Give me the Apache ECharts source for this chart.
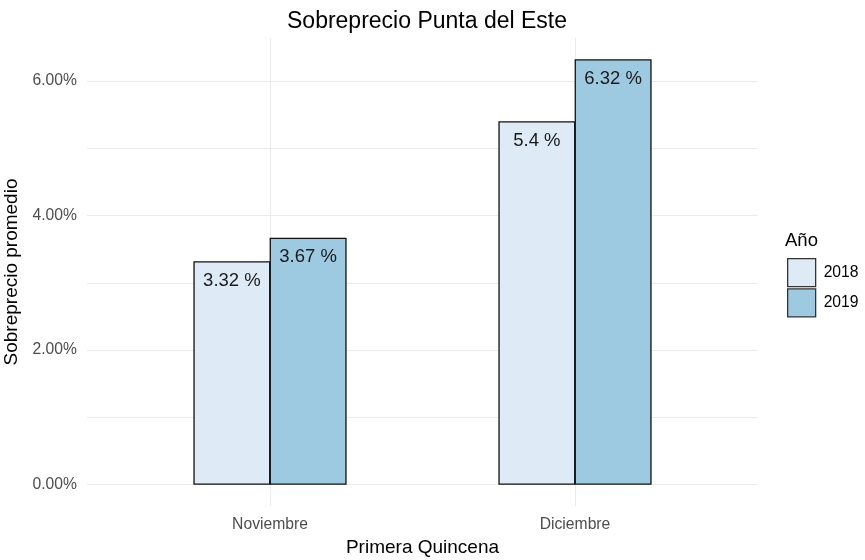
<!DOCTYPE html>
<html>
<head>
<meta charset="utf-8">
<script src="https://cdn.jsdelivr.net/npm/echarts@6/dist/echarts.min.js"></script>
<style>
  html, body { margin: 0; padding: 0; background: #fff; }
  #chart { width: 865px; height: 560px; }
</style>
</head>
<body>
<div id="chart"></div>
<script>
// datos
const categories = ['Noviembre', 'Diciembre']
const years = ['2018', '2019']
const values2018 = [3.32, 5.4]
const values2019 = [3.67, 6.32]
const yTicks = [0, 1, 2, 3, 4, 5, 6]
const yLabels = [0, 2, 4, 6]

const colors = ['#deebf7', '#9ecae1']
const gridColor = '#ebebeb'
const font = 'Liberation Sans, Arial'

var myChart = echarts.init(document.getElementById('chart'))

// posicion x de cada categoria: 1, 2 (como ggplot)
function toPoints(vals) {
  return vals.map((v, i) => [i + 1, v])
}

let series = [values2018, values2019].map((vals, index) => {
  return {
    name: years[index],
    type: 'bar',
    data: toPoints(vals),
    barWidth: 77,
    barGap: '-1%',
    itemStyle: {
      color: colors[index],
      borderColor: '#111',
      borderWidth: 1.3
    },
    label: {
      show: true,
      position: 'insideTop',
      distance: 10,
      formatter: p => p.value[1] + ' %',
      fontFamily: font,
      fontSize: 18.5,
      color: '#1a1a1a'
    },
    z: 3
  }
})

// lineas verticales de la grilla en cada categoria (detras de las barras)
series.push({
  type: 'line',
  data: [],
  silent: true,
  z: 1,
  markLine: {
    z: 0,
    symbol: 'none',
    silent: true,
    label: { show: false },
    lineStyle: { color: gridColor, type: 'solid', width: 1 },
    data: categories.map((c, i) => ({ xAxis: i + 1 }))
  }
})

const option = {
  animation: false,
  textStyle: { fontFamily: font },
  title: {
    text: 'Sobreprecio Punta del Este',
    left: 422,
    textAlign: 'center',
    top: 5,
    textStyle: {
      fontFamily: font,
      fontSize: 23,
      fontWeight: 'normal',
      color: '#000'
    }
  },
  grid: {
    left: 87,
    right: 107,
    top: 38,
    bottom: 54,
    outerBoundsMode: 'none'
  },
  legend: {
    orient: 'vertical',
    left: 787,
    top: 258,
    padding: 0,
    itemWidth: 28,
    itemHeight: 28,
    itemGap: 1,
    icon: 'rect',
    data: years,
    itemStyle: {
      borderColor: '#333',
      borderWidth: 1.3
    },
    textStyle: {
      fontFamily: font,
      fontSize: 15.7,
      color: '#000',
      padding: [0, 0, 0, 3]
    }
  },
  graphic: [
    {
      type: 'text',
      left: 785,
      top: 231,
      style: {
        text: 'Año',
        fontFamily: font,
        fontSize: 18.5,
        fill: '#000'
      }
    }
  ],
  xAxis: {
    type: 'value',
    min: 0.4,
    max: 2.6,
    name: 'Primera Quincena',
    nameLocation: 'middle',
    nameGap: 32,
    nameTextStyle: {
      fontSize: 19,
      color: '#000'
    },
    axisLine: { show: false },
    axisTick: { show: false, customValues: [1, 2] },
    splitLine: { show: false },
    axisLabel: {
      customValues: [1, 2],
      formatter: v => categories[Math.round(v) - 1],
      fontSize: 15.7,
      color: '#4d4d4d',
      margin: 11
    }
  },
  yAxis: {
    type: 'value',
    min: -0.316,
    max: 6.636,
    name: 'Sobreprecio promedio',
    nameLocation: 'middle',
    nameGap: 58,
    nameTextStyle: {
      fontSize: 19,
      color: '#000'
    },
    axisLine: { show: false },
    axisTick: { show: false, customValues: yTicks },
    axisLabel: {
      customValues: yLabels,
      formatter: v => v.toFixed(2) + '%',
      fontSize: 15.7,
      color: '#4d4d4d',
      margin: 10
    },
    splitLine: {
      show: true,
      lineStyle: { color: gridColor, width: 1 }
    }
  },
  series: series
}

myChart.setOption(option)
</script>
</body>
</html>
